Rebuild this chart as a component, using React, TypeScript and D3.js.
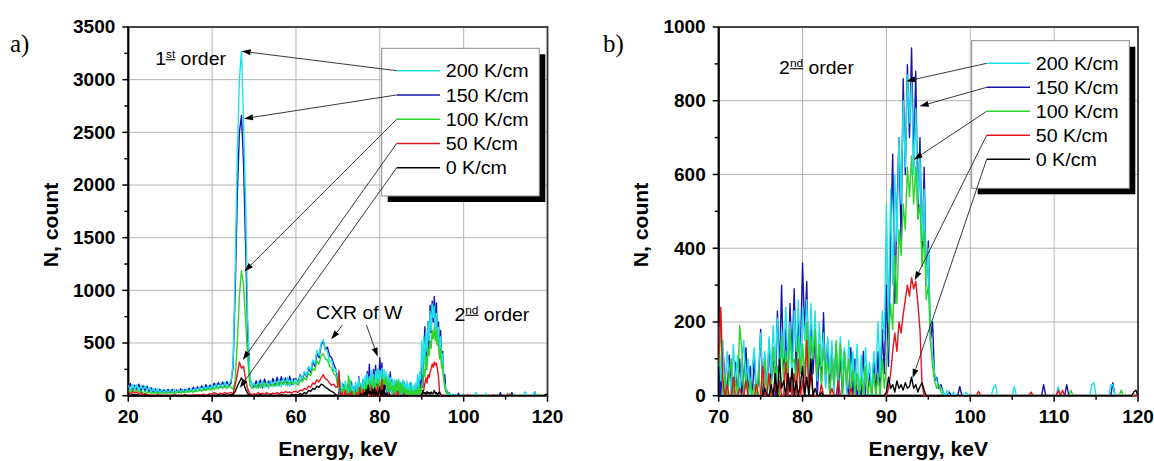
import React from 'react';
import * as d3 from 'd3';

const FONT = '"Liberation Sans", Arial, Helvetica, sans-serif';
const SERIF = '"Liberation Serif", "Times New Roman", serif';
const SX = 1.08; // slight horizontal stretch seen in the reference lettering

const seriesLabels = ['200 K/cm', '150 K/cm', '100 K/cm', '50 K/cm', '0 K/cm'];
const seriesColors = ['#1fe2e8', '#1414b0', '#2cd42c', '#e3141b', '#000000'];
const drawOrder = [1, 0, 2, 3, 4];

// energy bins: 20–69.5 keV every 0.5 keV, 70–120 keV every 0.25 keV
const lowStartKeV = 20;
const lowStepKeV = 0.5;
const highStartKeV = 70;
const highStepKeV = 0.25;

// ---- 200 K/cm (cyan)
const cyanLow = [
  100, 50, 110, 60, 105, 45, 100, 55, 95, 40,
  80, 35, 70, 30, 65, 30, 60, 25, 55, 30,
  55, 25, 60, 30, 55, 35, 60, 30, 65, 35,
  65, 35, 75, 40, 80, 45, 90, 50, 95, 55,
  105, 60, 115, 70, 110, 65, 125, 75, 120, 140,
  300, 1200, 2300, 3000, 3270, 2600, 1800, 700, 180, 90,
  120, 70, 135, 75, 140, 80, 130, 70, 145, 85,
  150, 90, 160, 85, 165, 95, 175, 90, 160, 100,
  150, 110, 190, 160, 230, 190, 280, 240, 340, 300,
  430, 380, 500, 530, 440, 420, 320, 340, 230, 250,
];
const cyanHigh = [
  180, 40, 150, 0, 120, 60, 0, 140, 30, 110, 0, 90, 150, 20, 100, 0, 80, 130, 0, 60,
  170, 40, 120, 0, 160, 60, 190, 80, 210, 30, 180, 100, 240, 90, 200, 20, 230, 120, 260, 70,
  240, 150, 260, 60, 250, 110, 230, 40, 200, 80, 170, 20, 160, 60, 150, 0, 140, 30, 160, 70,
  130, 0, 150, 50, 120, 20, 140, 0, 110, 0, 130, 40, 90, 0, 120, 60, 200, 50, 230, 150,
  520, 200, 560, 300, 600, 420, 700, 520, 800, 620, 870, 740, 850, 600, 780, 520, 650, 420, 560, 300,
  400, 150, 110, 60, 40, 30, 20, 10, 0, 15, 0, 0, 10, 0, 0, 0, 0, 0, 10, 0,
  0, 0, 0, 0, 0, 0, 0, 0, 0, 0, 0, 20, 30, 0, 0, 0, 0, 0, 0, 0,
  0, 25, 0, 0, 0, 0, 0, 0, 0, 0, 0, 0, 0, 0, 0, 0, 0, 0, 0, 0,
  0, 0, 25, 0, 0, 0, 0, 0, 0, 0, 0, 0, 0, 0, 0, 0, 0, 0, 30, 35,
  0, 0, 0, 0, 0, 0, 0, 30, 30, 0, 0, 0, 0, 0, 0, 0, 0, 0, 0, 0,
  0,
];

// ---- 150 K/cm (blue)
const blueLow = [
  70, 115, 45, 100, 55, 110, 40, 95, 50, 90,
  35, 75, 30, 65, 25, 60, 30, 55, 35, 60,
  30, 60, 35, 55, 30, 65, 35, 60, 40, 70,
  40, 80, 45, 85, 50, 95, 55, 105, 60, 100,
  70, 120, 75, 125, 80, 130, 85, 135, 90, 120,
  280, 1000, 1900, 2500, 2660, 2200, 1400, 550, 160, 110,
  80, 140, 85, 150, 75, 160, 90, 140, 95, 165,
  100, 175, 95, 180, 110, 170, 100, 185, 105, 160,
  160, 120, 200, 150, 220, 180, 270, 220, 320, 280,
  400, 360, 480, 520, 440, 460, 380, 360, 300, 250,
];
const blueHigh = [
  160, 0, 120, 60, 0, 110, 40, 0, 90, 0, 100, 0, 60, 130, 0, 80, 0, 100, 0, 40,
  180, 0, 110, 0, 150, 30, 130, 0, 230, 60, 300, 40, 180, 20, 250, 90, 290, 50, 210, 120,
  360, 170, 310, 30, 200, 60, 170, 0, 120, 40, 225, 30, 150, 0, 130, 20, 140, 0, 110, 0,
  120, 30, 0, 130, 0, 100, 0, 20, 0, 120, 0, 0, 60, 0, 100, 0, 120, 0, 180, 60,
  300, 80, 420, 655, 250, 500, 700, 420, 860, 600, 898, 700, 943, 620, 880, 480, 700, 380, 620, 300,
  420, 150, 200, 40, 50, 20, 30, 10, 0, 0, 10, 0, 0, 0, 0, 25, 0, 0, 0, 0,
  0, 0, 0, 0, 0, 0, 0, 0, 0, 0, 0, 0, 0, 0, 0, 0, 0, 0, 0, 0,
  0, 0, 0, 0, 0, 0, 0, 0, 0, 0, 0, 0, 0, 0, 0, 30, 0, 0, 0, 0,
  0, 0, 0, 0, 0, 0, 30, 0, 0, 0, 0, 0, 0, 0, 0, 0, 0, 0, 0, 0,
  0, 0, 0, 0, 0, 0, 0, 0, 35, 0, 0, 0, 0, 0, 0, 0, 0, 0, 0, 0,
  0,
];

// ---- 100 K/cm (green)
const greenLow = [
  50, 30, 60, 40, 55, 35, 45, 30, 40, 25,
  35, 20, 30, 25, 35, 20, 30, 25, 20, 30,
  25, 35, 20, 30, 40, 25, 35, 30, 40, 35,
  45, 30, 50, 40, 55, 45, 60, 50, 65, 55,
  70, 60, 80, 65, 90, 75, 85, 70, 90, 80,
  60, 150, 500, 950, 1190, 1050, 700, 350, 100, 70,
  80, 100, 70, 110, 90, 120, 85, 100, 95, 110,
  90, 120, 100, 130, 110, 140, 105, 125, 115, 130,
  120, 100, 150, 130, 170, 150, 210, 190, 260, 240,
  330, 300, 380, 400, 350, 340, 280, 260, 210, 190,
];
const greenHigh = [
  80, 200, 0, 60, 0, 50, 100, 0, 40, 0, 190, 130, 0, 60, 0, 40, 0, 30, 0, 70,
  0, 40, 100, 0, 60, 0, 130, 50, 80, 0, 160, 40, 120, 60, 180, 90, 100, 30, 160, 60,
  140, 50, 200, 80, 160, 100, 180, 60, 140, 20, 130, 60, 90, 0, 100, 30, 150, 40, 140, 0,
  120, 30, 100, 0, 70, 0, 60, 0, 50, 0, 80, 0, 40, 0, 60, 0, 60, 0, 100, 20,
  80, 150, 250, 180, 380, 250, 450, 380, 520, 450, 620, 540, 650, 520, 620, 480, 520, 350, 450, 260,
  300, 150, 80, 40, 20, 30, 10, 0, 0, 0, 0, 0, 0, 0, 0, 0, 0, 0, 0, 0,
  0, 0, 0, 0, 0, 0, 0, 0, 0, 0, 0, 0, 0, 0, 0, 0, 0, 0, 0, 0,
  0, 0, 0, 0, 0, 0, 0, 0, 0, 0, 0, 0, 0, 0, 0, 0, 0, 0, 0, 0,
  0, 0, 0, 0, 0, 0, 0, 0, 15, 0, 0, 0, 0, 0, 0, 0, 0, 0, 0, 0,
  0, 0, 0, 0, 0, 0, 0, 0, 0, 0, 0, 0, 15, 0, 0, 0, 0, 0, 0, 0,
  0,
];

// ---- 50 K/cm (red)
const redLow = [
  30, 20, 40, 25, 35, 15, 30, 10, 20, 5,
  10, 0, 5, 0, 10, 0, 5, 0, 0, 5,
  0, 5, 0, 0, 5, 0, 0, 10, 0, 5,
  0, 10, 5, 0, 10, 5, 15, 0, 10, 20,
  15, 30, 20, 10, 25, 15, 30, 20, 25, 30,
  20, 100, 200, 320, 260, 280, 150, 60, 20, 10,
  20, 10, 30, 15, 25, 10, 30, 20, 15, 25,
  20, 30, 15, 35, 25, 40, 30, 35, 25, 40,
  40, 30, 55, 45, 70, 60, 90, 80, 120, 110,
  150, 130, 170, 200, 160, 150, 120, 100, 110, 80,
];
const redHigh = [
  90, 240, 40, 0, 30, 0, 0, 50, 0, 0, 20, 0, 0, 40, 0, 0, 0, 0, 30, 0,
  0, 80, 0, 0, 60, 0, 0, 30, 0, 40, 0, 0, 90, 0, 50, 0, 60, 0, 100, 0,
  40, 0, 150, 0, 60, 0, 0, 0, 0, 30, 0, 0, 0, 0, 20, 0, 0, 40, 0, 0,
  0, 0, 0, 20, 0, 0, 0, 0, 0, 0, 0, 0, 0, 0, 0, 0, 0, 0, 0, 0,
  0, 20, 60, 120, 170, 120, 200, 170, 220, 260, 300, 270, 320, 290, 310, 250, 180, 30, 0, 0,
  0, 0, 0, 0, 0, 0, 0, 0, 0, 0, 0, 0, 0, 0, 0, 0, 0, 0, 0, 0,
  0, 0, 0, 0, 12, 0, 0, 0, 0, 0, 0, 0, 0, 0, 0, 0, 0, 0, 0, 0,
  0, 0, 0, 0, 0, 0, 0, 0, 0, 10, 0, 0, 0, 0, 0, 0, 0, 0, 0, 0,
  0, 0, 15, 0, 15, 0, 0, 0, 0, 0, 0, 0, 0, 0, 0, 0, 0, 0, 0, 0,
  0, 0, 0, 0, 0, 0, 0, 0, 0, 0, 0, 0, 0, 0, 0, 0, 0, 0, 0, 0,
  0,
];

// ---- 0 K/cm (black)
const blackLow = [
  10, 0, 15, 5, 10, 0, 5, 0, 10, 0,
  0, 0, 0, 0, 0, 0, 0, 0, 0, 0,
  0, 0, 5, 0, 0, 0, 0, 5, 0, 0,
  0, 0, 0, 5, 0, 0, 0, 0, 5, 0,
  0, 5, 0, 10, 0, 5, 10, 0, 5, 10,
  10, 40, 90, 130, 170, 120, 60, 20, 5, 0,
  0, 5, 0, 10, 0, 0, 5, 0, 10, 0,
  0, 5, 0, 10, 0, 5, 0, 0, 10, 5,
  10, 0, 20, 10, 30, 20, 50, 40, 70, 60,
  90, 80, 110, 100, 80, 70, 50, 40, 30, 10,
];
const blackHigh = [
  0, 0, 0, 0, 0, 0, 0, 0, 0, 0, 0, 0, 0, 0, 0, 0, 0, 0, 0, 0,
  0, 0, 20, 0, 0, 30, 0, 60, 0, 100, 20, 40, 0, 60, 10, 74, 0, 40, 0, 30,
  80, 0, 50, 0, 100, 0, 20, 0, 0, 10, 0, 0, 0, 0, 0, 0, 0, 0, 0, 0,
  0, 0, 0, 0, 0, 0, 0, 0, 0, 0, 0, 0, 0, 0, 0, 0, 0, 0, 0, 0,
  10, 50, 20, 30, 10, 40, 20, 30, 15, 35, 20, 25, 50, 20, 30, 10, 25, 35, 15, 0,
  0, 0, 0, 0, 0, 0, 0, 0, 0, 0, 0, 0, 0, 0, 0, 0, 0, 0, 0, 0,
  0, 0, 0, 0, 0, 0, 0, 0, 0, 0, 0, 0, 0, 0, 0, 0, 0, 0, 0, 0,
  0, 0, 0, 0, 0, 0, 0, 0, 0, 0, 0, 0, 0, 0, 0, 0, 0, 0, 0, 0,
  0, 0, 0, 0, 0, 0, 0, 0, 0, 0, 0, 0, 0, 0, 0, 0, 0, 0, 0, 0,
  0, 0, 0, 0, 0, 0, 0, 0, 0, 0, 0, 0, 0, 0, 0, 0, 0, 0, 10, 15,
  0,
];

type Pt = [number, number];

function buildSeries(low: number[], high: number[]): Pt[] {
  const a: Pt[] = low.map((v, i) => [lowStartKeV + i * lowStepKeV, v]);
  const b: Pt[] = high.map((v, i) => [highStartKeV + i * highStepKeV, v]);
  return a.concat(b);
}

const seriesData: Pt[][] = [
  buildSeries(cyanLow, cyanHigh),
  buildSeries(blueLow, blueHigh),
  buildSeries(greenLow, greenHigh),
  buildSeries(redLow, redHigh),
  buildSeries(blackLow, blackHigh),
];

// axis ticks
const leftXMajor = [20, 40, 60, 80, 100, 120];
const leftXMinor = [30, 50, 70, 90, 110];
const leftYMajor = [0, 500, 1000, 1500, 2000, 2500, 3000, 3500];
const leftYMinor = [250, 750, 1250, 1750, 2250, 2750, 3250];
const rightXMajor = [70, 80, 90, 100, 110, 120];
const rightXMinor = [75, 85, 95, 105, 115];
const rightYMajor = [0, 200, 400, 600, 800, 1000];
const rightYMinor = [100, 300, 500, 700, 900];

// arrow targets (keV, count) for each legend entry
const leftArrowTargets: Pt[] = [[47.05, 3270], [47.6, 2630], [47.7, 1180], [47.3, 340], [46.6, 75]];
const rightArrowTargets: Pt[] = [[92.38, 853], [93.96, 785], [93.25, 640], [93.37, 313], [93.13, 48]];

interface PanelCfg {
  id: string;
  x0: number; x1: number; y0: number; y1: number;
  xDomain: [number, number]; yDomain: [number, number];
  xMajor: number[]; xMinor: number[]; yMajor: number[]; yMinor: number[];
  legend: { x: number; y: number; w: number; h: number; lineX0: number; lineX1: number; textX: number; rowY0: number; rowStep: number };
  arrows: Pt[];
  yTitleX: number;
  tag: string; tagX: number;
}

const panels: PanelCfg[] = [
  {
    id: 'a', x0: 128.3, x1: 547.5, y0: 27, y1: 395.7,
    xDomain: [20, 120], yDomain: [0, 3500],
    xMajor: leftXMajor, xMinor: leftXMinor, yMajor: leftYMajor, yMinor: leftYMinor,
    legend: { x: 381.7, y: 48.3, w: 157.6, h: 147.7, lineX0: 396.7, lineX1: 440, textX: 445.7, rowY0: 70.7, rowStep: 24.25 },
    arrows: leftArrowTargets,
    yTitleX: 58, tag: 'a)', tagX: 10,
  },
  {
    id: 'b', x0: 718.7, x1: 1138, y0: 27, y1: 395.7,
    xDomain: [70, 120], yDomain: [0, 1000],
    xMajor: rightXMajor, xMinor: rightXMinor, yMajor: rightYMajor, yMinor: rightYMinor,
    legend: { x: 971.7, y: 40.7, w: 157.6, h: 147.6, lineX0: 986.7, lineX1: 1030, textX: 1035.7, rowY0: 63.3, rowStep: 24 },
    arrows: rightArrowTargets,
    yTitleX: 648, tag: 'b)', tagX: 603,
  },
];

function Txt(props: { x: number; y: number; size: number; bold?: boolean; anchor?: string; rotate?: number; family?: string; children: React.ReactNode; sx?: number }) {
  const { x, y, size, bold, anchor, rotate, family, children, sx } = props;
  const s = sx ?? SX;
  const tr = `translate(${x},${y})${rotate ? ` rotate(${rotate})` : ''} scale(${s},1)`;
  return (
    <text transform={tr} fontSize={size} fontWeight={bold ? 'bold' : 'normal'} fontFamily={family ?? FONT} textAnchor={anchor ?? 'start'} fill="#000">
      {children}
    </text>
  );
}

function Arrow({ from, to }: { from: Pt; to: Pt }) {
  const dx = to[0] - from[0];
  const dy = to[1] - from[1];
  const len = Math.hypot(dx, dy);
  const ux = dx / len, uy = dy / len;
  const hl = 9, hw = 3;
  const bx = to[0] - ux * hl, by = to[1] - uy * hl;
  const p1 = [bx - uy * hw, by + ux * hw];
  const p2 = [bx + uy * hw, by - ux * hw];
  return (
    <g>
      <line x1={from[0]} y1={from[1]} x2={bx} y2={by} stroke="#222" strokeWidth={0.9} />
      <polygon points={`${to[0]},${to[1]} ${p1[0]},${p1[1]} ${p2[0]},${p2[1]}`} fill="#000" />
    </g>
  );
}

function Ordinal({ x, y, num, sup }: { x: number; y: number; num: string; sup: string }) {
  return (
    <text transform={`translate(${x},${y}) scale(${SX},1)`} fontSize={18} fontFamily={FONT} fill="#000">
      <tspan>{num}</tspan>
      <tspan dy={-7} fontSize={11} style={{ textDecoration: 'underline' }}>{sup}</tspan>
      <tspan dy={7}>{' order'}</tspan>
    </text>
  );
}

function Panel({ cfg }: { cfg: PanelCfg }) {
  const x = d3.scaleLinear().domain(cfg.xDomain).range([cfg.x0, cfg.x1]);
  const y = d3.scaleLinear().domain(cfg.yDomain).range([cfg.y1, cfg.y0]);
  const line = d3.line<Pt>().x((d) => x(d[0])).y((d) => y(d[1]));
  const clipId = `clip-${cfg.id}`;
  const lg = cfg.legend;
  const midX = (cfg.x0 + cfg.x1) / 2;
  const inner = (v: number, dom: [number, number]) => v > dom[0] && v < dom[1];
  return (
    <g>
      <defs>
        <clipPath id={clipId}>
          <rect x={cfg.x0} y={cfg.y0 - 1} width={cfg.x1 - cfg.x0} height={cfg.y1 - cfg.y0 + 2} />
        </clipPath>
      </defs>
      {/* grid */}
      {cfg.xMajor.filter((v) => inner(v, cfg.xDomain)).map((v) => (
        <line key={`gx${v}`} x1={x(v)} x2={x(v)} y1={cfg.y0} y2={cfg.y1} stroke="#b4b4b4" strokeWidth={1} />
      ))}
      {cfg.yMajor.filter((v) => inner(v, cfg.yDomain)).map((v) => (
        <line key={`gy${v}`} x1={cfg.x0} x2={cfg.x1} y1={y(v)} y2={y(v)} stroke="#b4b4b4" strokeWidth={1} />
      ))}
      {/* frame */}
      <rect x={cfg.x0} y={cfg.y0} width={cfg.x1 - cfg.x0} height={cfg.y1 - cfg.y0} fill="none" stroke="#333" strokeWidth={1.8} />
      <line x1={cfg.x0} x2={cfg.x0} y1={cfg.y0} y2={cfg.y1} stroke="#000" strokeWidth={2} />
      <line x1={cfg.x0} x2={cfg.x1} y1={cfg.y1} y2={cfg.y1} stroke="#000" strokeWidth={2} />
      {/* ticks */}
      {cfg.xMajor.map((v) => (
        <line key={`tx${v}`} x1={x(v)} x2={x(v)} y1={cfg.y1} y2={cfg.y1 + 6} stroke="#000" strokeWidth={1.5} />
      ))}
      {cfg.xMinor.map((v) => (
        <line key={`mx${v}`} x1={x(v)} x2={x(v)} y1={cfg.y1} y2={cfg.y1 + 4} stroke="#000" strokeWidth={1.5} />
      ))}
      {cfg.yMajor.map((v) => (
        <line key={`ty${v}`} x1={cfg.x0 - 6} x2={cfg.x0} y1={y(v)} y2={y(v)} stroke="#000" strokeWidth={1.5} />
      ))}
      {cfg.yMinor.map((v) => (
        <line key={`my${v}`} x1={cfg.x0 - 4} x2={cfg.x0} y1={y(v)} y2={y(v)} stroke="#000" strokeWidth={1.5} />
      ))}
      {/* tick labels */}
      {cfg.xMajor.map((v) => (
        <Txt key={`lx${v}`} x={x(v)} y={423} size={17.6} bold anchor="middle">{String(v)}</Txt>
      ))}
      {cfg.yMajor.map((v) => (
        <Txt key={`ly${v}`} x={cfg.x0 - 13} y={y(v) + 6.4} size={17.6} bold anchor="end">{String(v)}</Txt>
      ))}
      {/* titles */}
      <Txt x={midX} y={455.5} size={19.6} bold anchor="middle">Energy, keV</Txt>
      <Txt x={cfg.yTitleX} y={225} size={19.6} bold anchor="middle" rotate={-90}>N, count</Txt>
      <Txt x={cfg.tagX} y={52} size={25} family={SERIF} sx={1}>{cfg.tag}</Txt>
      {/* data */}
      <g clipPath={`url(#${clipId})`}>
        {drawOrder.map((si) => (
          <path key={`s${si}`} d={line(seriesData[si]) ?? ''} fill="none" stroke={seriesColors[si]} strokeWidth={1.4} strokeLinejoin="round" />
        ))}
      </g>
      {/* legend */}
      <rect x={lg.x + 6} y={lg.y + 6} width={lg.w} height={lg.h} fill="#000" />
      <rect x={lg.x} y={lg.y} width={lg.w} height={lg.h} fill="#fff" stroke="#8a8a8a" strokeWidth={1} />
      {seriesLabels.map((lab, i) => {
        const ry = lg.rowY0 + i * lg.rowStep;
        return (
          <g key={`lg${i}`}>
            <line x1={lg.lineX0} x2={lg.lineX1} y1={ry} y2={ry} stroke={seriesColors[i]} strokeWidth={1.5} />
            <Txt x={lg.textX} y={ry + 6.6} size={18.2}>{lab}</Txt>
          </g>
        );
      })}
      {cfg.arrows.map((t, i) => (
        <Arrow key={`ar${i}`} from={[lg.lineX0, lg.rowY0 + i * lg.rowStep]} to={[x(t[0]), y(t[1])]} />
      ))}
    </g>
  );
}

export default function App() {
  const L = panels[0];
  const R = panels[1];
  const lx = d3.scaleLinear().domain(L.xDomain).range([L.x0, L.x1]);
  const ly = d3.scaleLinear().domain(L.yDomain).range([L.y1, L.y0]);
  const rx = d3.scaleLinear().domain(R.xDomain).range([R.x0, R.x1]);
  const ry = d3.scaleLinear().domain(R.yDomain).range([R.y1, R.y0]);
  return (
    <svg width={1154} height={461} style={{ position: 'absolute', left: 0, top: 0, background: '#fff' }}>
      <rect x={0} y={0} width={1154} height={461} fill="#fff" />
      <Panel cfg={L} />
      <Panel cfg={R} />
      {/* annotations, left */}
      <Ordinal x={lx(26.4)} y={ly(3137)} num="1" sup="st" />
      <Txt x={lx(64.8)} y={ly(725)} size={18}>CXR of W</Txt>
      <Arrow from={[lx(71.1), ly(671)]} to={[lx(68.4), ly(535)]} />
      <Arrow from={[lx(76.8), ly(671)]} to={[lx(79.5), ly(370)]} />
      <Ordinal x={lx(97.8)} y={ly(711)} num="2" sup="nd" />
      {/* annotations, right */}
      <Ordinal x={rx(77.2)} y={ry(872)} num="2" sup="nd" />
    </svg>
  );
}
